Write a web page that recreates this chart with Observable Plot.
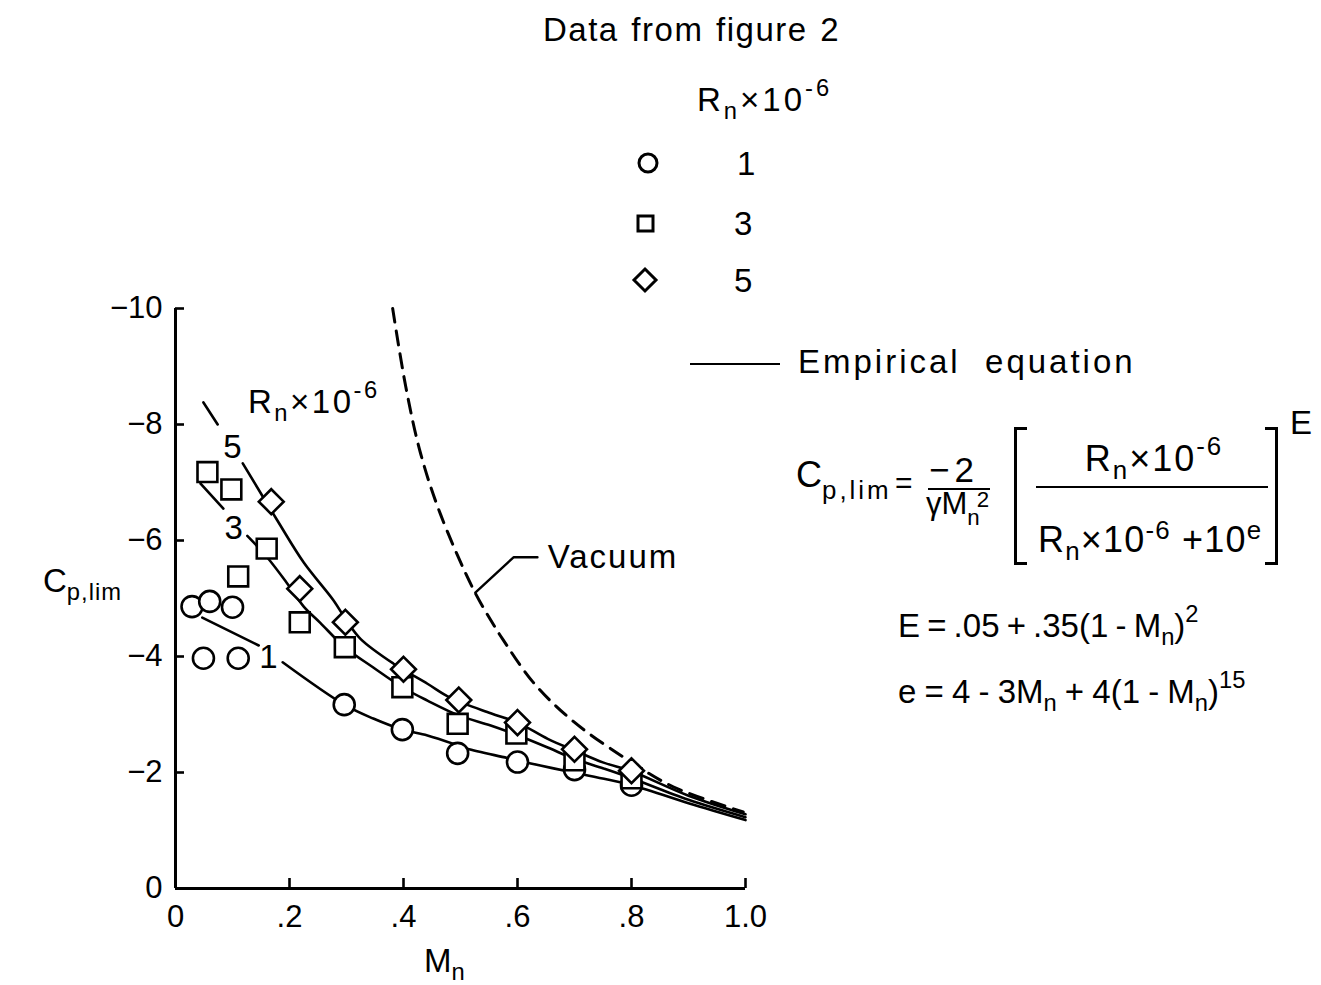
<!DOCTYPE html>
<html><head><meta charset="utf-8">
<script src="https://cdn.jsdelivr.net/npm/d3@7"></script>
<script src="https://cdn.jsdelivr.net/npm/@observablehq/plot@0.6"></script>
<style>
body{margin:0;background:#fff;}
#wrap{position:relative;width:1321px;height:985px;font-family:"Liberation Sans",Arial,sans-serif;color:#000;}
#wrap svg.plot{position:absolute;left:0;top:0;}
.t{position:absolute;font-size:33px;line-height:1;white-space:nowrap;}
.t sub{font-size:0.72em;vertical-align:-0.32em;line-height:0;}
.t sup{font-size:0.72em;vertical-align:0.62em;line-height:0;}
.bar{position:absolute;height:0;border-top:2.5px solid #000;}
.lb{position:absolute;width:10px;height:132px;border:3px solid #000;border-right:none;}
.rb{position:absolute;width:10px;height:132px;border:3px solid #000;border-left:none;}
</style></head>
<body><div id="wrap"></div>
<script>
// ---- axis ticks ----
const xTicks = [0, 0.2, 0.4, 0.6, 0.8, 1.0];
const xTickLabels = ["0", ".2", ".4", ".6", ".8", "1.0"];
const yTicks = [0, -2, -4, -6, -8, -10];
const yTickLabels = ["0", "\u22122", "\u22124", "\u22126", "\u22128", "\u221210"];

// ---- measured data points (Rn x 10^-6 = 1, 3, 5) ----
const r1Mn = [0.029, 0.06, 0.10, 0.049, 0.11, 0.296, 0.398, 0.495, 0.60, 0.70, 0.80];
const r1Cp = [-4.86, -4.95, -4.85, -3.97, -3.97, -3.17, -2.74, -2.33, -2.18, -2.05, -1.78];
const r3Mn = [0.056, 0.098, 0.11, 0.16, 0.218, 0.297, 0.398, 0.495, 0.598, 0.70, 0.80];
const r3Cp = [-7.18, -6.88, -5.38, -5.86, -4.59, -4.16, -3.47, -2.84, -2.67, -2.21, -1.90];
const r5Mn = [0.168, 0.218, 0.298, 0.40, 0.497, 0.60, 0.70, 0.80];
const r5Cp = [-6.67, -5.17, -4.59, -3.78, -3.25, -2.86, -2.40, -2.03];

// ---- empirical-equation curves (null = gap for label) ----
const c1Mn = [0.047, 0.146, null, 0.188, 0.296, 0.347, 0.398, 0.442, 0.495, 0.512, 0.582, 0.64, 0.698, 0.758, 0.798, 0.90, 1.0];
const c1Cp = [-4.67, -4.19, null, -3.90, -3.17, -2.93, -2.74, -2.64, -2.47, -2.41, -2.25, -2.12, -2.00, -1.88, -1.79, -1.47, -1.18];
const c3Mn = [0.044, 0.084, null, 0.126, 0.16, 0.196, 0.225, 0.254, 0.297, 0.347, 0.398, 0.442, 0.498, 0.553, 0.598, 0.653, 0.698, 0.751, 0.798, 0.90, 1.0];
const c3Cp = [-6.98, -6.55, null, -6.08, -5.72, -5.26, -4.86, -4.58, -4.16, -3.81, -3.47, -3.24, -2.98, -2.81, -2.65, -2.43, -2.24, -2.07, -1.91, -1.53, -1.23];
const c5Mn = [0.049, 0.074, null, 0.118, 0.179, 0.225, 0.277, 0.30, 0.325, 0.382, 0.442, 0.482, 0.553, 0.60, 0.653, 0.70, 0.751, 0.80, 0.90, 1.0];
const c5Cp = [-8.38, -8.00, null, -7.33, -6.34, -5.62, -4.97, -4.62, -4.30, -3.88, -3.53, -3.29, -3.02, -2.86, -2.58, -2.38, -2.17, -2.02, -1.60, -1.28];

// ---- vacuum limit (dashed) ----
const vacMn = [0.381, 0.404, 0.43, 0.465, 0.523, 0.561, 0.574, 0.628, 0.698, 0.793, 0.874, 0.996];
const vacCp = [-10.0, -8.65, -7.50, -6.45, -5.15, -4.50, -4.30, -3.55, -2.88, -2.22, -1.75, -1.32];

// ---- annotations ----
const leaderMn = [0.526, 0.593, 0.635];
const leaderCp = [-5.10, -5.71, -5.71];
const curveLabel = ["5", "3", "1"];
const curveLabelMn = [0.10, 0.102, 0.163];
const curveLabelCp = [-7.6, -6.21, -3.98];
const vacLabel = ["Vacuum"];
const vacLabelMn = [0.653];
const vacLabelCp = [-5.71];

const idx = n => Array.from({length: n}, (_, i) => i);
const pick = (arr) => (d) => arr[d];

const lineOpts = (mx, my) => ({x: pick(mx), y: pick(my), stroke: "#000", strokeWidth: 2.6, curve: "catmull-rom"});
const dotOpts = (mx, my, symbol, r) => ({x: pick(mx), y: pick(my), symbol, r, fill: "#fff", stroke: "#000", strokeWidth: 2.6});

const chart = Plot.plot({
  width: 1321, height: 985,
  marginLeft: 175, marginRight: 576, marginTop: 308, marginBottom: 97,
  x: {domain: [0, 1]},
  y: {domain: [0, -10]},
  style: {fontFamily: '"Liberation Sans", Arial, sans-serif', fontSize: "31px", color: "#000", background: "transparent", overflow: "visible"},
  marks: [
    Plot.axisX(xTicks, {anchor: "bottom", tickSize: 0, tickPadding: 16, label: null,
      tickFormat: d => xTickLabels[xTicks.indexOf(d)], fontSize: 31}),
    Plot.axisY(yTicks, {anchor: "left", tickSize: 0, tickPadding: 13, label: null,
      tickFormat: d => yTickLabels[yTicks.indexOf(d)], fontSize: 31}),
    Plot.ruleX(xTicks, {x: d => d, insetTop: 570, stroke: "#000", strokeWidth: 2.6}),
    Plot.ruleY(yTicks, {y: d => d, insetRight: 561, stroke: "#000", strokeWidth: 2.6}),
    Plot.ruleX([0], {y1: 0, y2: -10, stroke: "#000", strokeWidth: 3}),
    Plot.ruleY([0], {x1: 0, x2: 1, stroke: "#000", strokeWidth: 3}),
    Plot.line(idx(vacMn.length), {x: pick(vacMn), y: pick(vacCp), stroke: "#000", strokeWidth: 3, strokeDasharray: "14,9", curve: "catmull-rom"}),
    Plot.line(idx(leaderMn.length), {x: pick(leaderMn), y: pick(leaderCp), stroke: "#000", strokeWidth: 2.4}),
    Plot.line(idx(c1Mn.length), lineOpts(c1Mn, c1Cp)),
    Plot.line(idx(c3Mn.length), lineOpts(c3Mn, c3Cp)),
    Plot.line(idx(c5Mn.length), lineOpts(c5Mn, c5Cp)),
    Plot.dot(idx(r1Mn.length), dotOpts(r1Mn, r1Cp, "circle", 10.5)),
    Plot.dot(idx(r3Mn.length), dotOpts(r3Mn, r3Cp, "square", 11.2)),
    Plot.dot(idx(r5Mn.length), dotOpts(r5Mn, r5Cp, "diamond2", 11.2)),
    Plot.text(idx(curveLabel.length), {x: pick(curveLabelMn), y: pick(curveLabelCp), text: pick(curveLabel), fontSize: 33, fill: "#000"}),
    Plot.text(idx(vacLabel.length), {x: pick(vacLabelMn), y: pick(vacLabelCp), text: pick(vacLabel), textAnchor: "start", fontSize: 33, fill: "#000"})
  ]
});
chart.classList.add("plot");
const wrap = document.getElementById("wrap");
wrap.appendChild(chart);
d3.select(chart).selectAll("text").filter(function(){ return this.textContent === "Vacuum"; }).style("letter-spacing", "2px");

const overlay = `
<div class="t" style="left:543px;top:13px;letter-spacing:1.5px;word-spacing:2px;">Data from figure 2</div>
<div class="t" style="left:697px;top:83px;letter-spacing:3px;">R<sub>n</sub>×10<sup>-6</sup></div>
<svg style="position:absolute;left:620px;top:140px;" width="60" height="170">
  <circle cx="28" cy="23" r="9" fill="#fff" stroke="#000" stroke-width="3"/>
  <rect x="18" y="76" width="15" height="15" fill="#fff" stroke="#000" stroke-width="3"/>
  <path d="M25,129 L36,140 L25,151 L14,140 Z" fill="#fff" stroke="#000" stroke-width="3"/>
</svg>
<div class="t" style="left:737px;top:147px;">1</div>
<div class="t" style="left:734px;top:207px;">3</div>
<div class="t" style="left:734px;top:264px;">5</div>
<div style="position:absolute;left:690px;top:363px;width:90px;border-top:2.6px solid #000;"></div>
<div class="t" style="left:798px;top:345px;letter-spacing:3px;">Empirical&nbsp; equation</div>
<div class="t" style="left:248px;top:385px;letter-spacing:2.5px;">R<sub>n</sub>×10<sup>-6</sup></div>
<div class="t" style="right:1199px;top:564px;">C<sub style="letter-spacing:1px;">p,lim</sub></div>
<div class="t" style="left:424px;top:944px;">M<sub>n</sub></div>

<div class="t" style="left:796px;top:457px;font-size:36px;">C<sub style="vertical-align:-0.45em;letter-spacing:3px;">p,lim</sub></div>
<div class="t" style="left:895px;top:468px;font-size:30px;">=</div>
<div class="t" style="left:929px;top:452px;font-size:35px;letter-spacing:5px;">&#8722;2</div>
<div class="bar" style="left:928px;top:488px;width:62px;"></div>
<div class="t" style="left:926px;top:488px;font-size:31px;">γM<sub style="vertical-align:-0.5em;">n</sub><sup style="vertical-align:0.3em;margin-left:-3px;">2</sup></div>
<div class="lb" style="left:1014px;top:427px;"></div>
<div class="t" style="left:1036px;top:441px;width:236px;text-align:center;font-size:36px;letter-spacing:2px;">R<sub>n</sub>×10<sup>-6</sup></div>
<div class="bar" style="left:1036px;top:486px;width:232px;"></div>
<div class="t" style="left:1038px;top:522px;font-size:36px;letter-spacing:1.2px;">R<sub>n</sub>×10<sup style="vertical-align:0.5em;">-6</sup> +10<sup style="vertical-align:0.5em;">e</sup></div>
<div class="rb" style="left:1265px;top:427px;"></div>
<div class="t" style="left:1290px;top:406px;">E</div>

<div class="t" style="left:898px;top:609px;font-size:33px;word-spacing:-2px;">E = .05 + .35(1 - M<sub>n</sub>)<sup>2</sup></div>
<div class="t" style="left:898px;top:675px;font-size:33px;word-spacing:-1px;">e = 4 - 3M<sub>n</sub> + 4(1 - M<sub>n</sub>)<sup>15</sup></div>
`;
wrap.insertAdjacentHTML("beforeend", overlay);
</script>
</body></html>
